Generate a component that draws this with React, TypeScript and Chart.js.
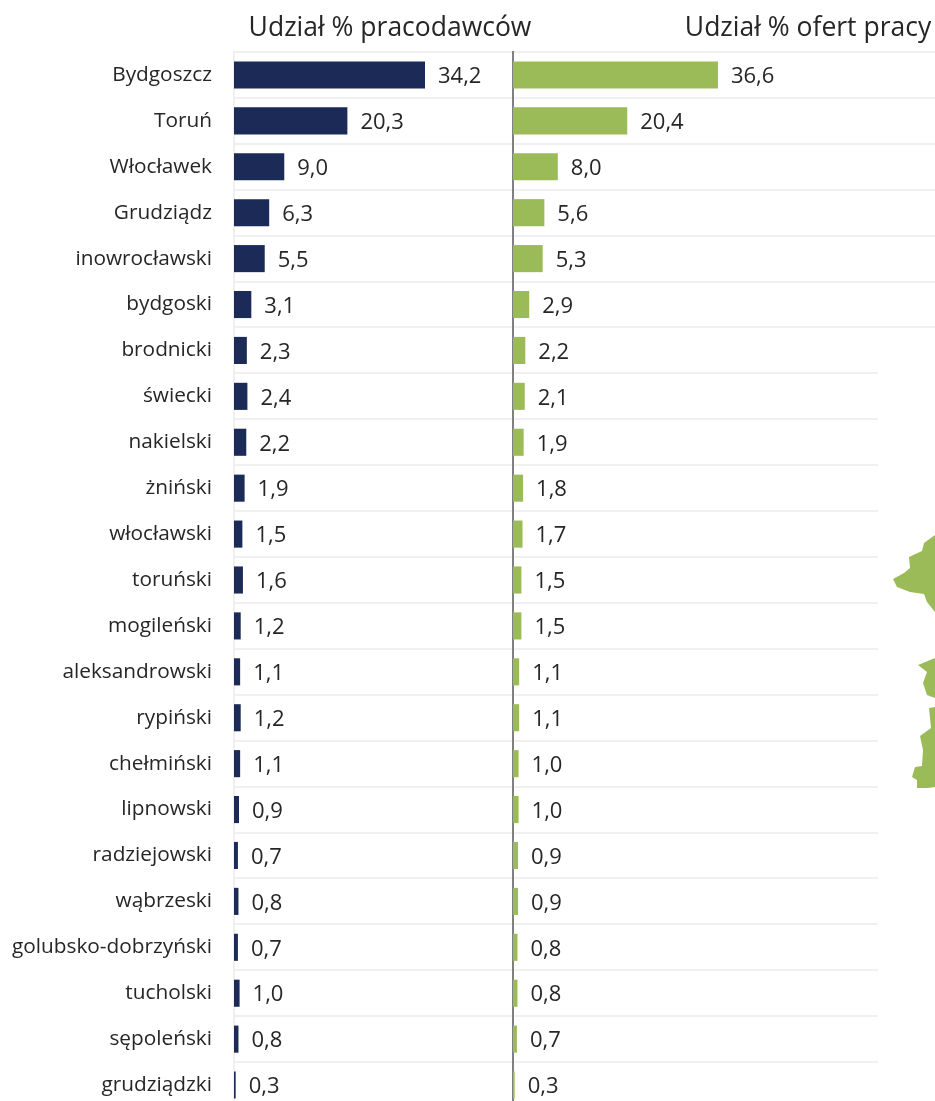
import React, { useEffect, useRef } from "react";
import { Chart, registerables } from "chart.js";

Chart.register(...registerables);

const categories = ["Bydgoszcz","Toruń","Włocławek","Grudziądz","inowrocławski","bydgoski","brodnicki","świecki","nakielski","żniński","włocławski","toruński","mogileński","aleksandrowski","rypiński","chełmiński","lipnowski","radziejowski","wąbrzeski","golubsko-dobrzyński","tucholski","sępoleński","grudziądzki"];
const employers = [34.2,20.3,9.0,6.3,5.5,3.1,2.3,2.4,2.2,1.9,1.5,1.6,1.2,1.1,1.2,1.1,0.9,0.7,0.8,0.7,1.0,0.8,0.3];
const offers = [36.6,20.4,8.0,5.6,5.3,2.9,2.2,2.1,1.9,1.8,1.7,1.5,1.5,1.1,1.1,1.0,1.0,0.9,0.9,0.8,0.8,0.7,0.3];
const titleEmployers = "Udział % pracodawców";
const titleOffers = "Udział % ofert pracy";

const FONT = "'Open Sans', sans-serif";
const TEXT = "#262626";
const GRID = "#f0f0f0";
const NAVY = "#1b2a56";
const GREEN = "#9bbb59";
const RIGHT_LEFT = 493;

// Decorative map fragments at the right edge of the picture (page pixels)
const mapPieces: number[][][] = [
  [[935,535],[924,543],[922,551],[909,557],[910,568],[904,573],[893,579],[897,587],[910,592],[924,594],[927,602],[935,612]],
  [[935,658],[918,665],[927,672],[923,683],[927,695],[935,698]],
  [[935,707],[929,708],[931,728],[920,736],[923,750],[922,766],[915,767],[912,777],[917,780],[917,788],[928,788],[935,787]],
];

const valueLabels = {
  id: "valueLabels",
  afterDatasetsDraw(chart: any) {
    const { ctx } = chart;
    ctx.save();
    ctx.font = `22px ${FONT}`;
    ctx.fillStyle = TEXT;
    ctx.textAlign = "left";
    ctx.textBaseline = "middle";
    chart.getDatasetMeta(0).data.forEach((bar: any, i: number) => {
      const v = chart.data.datasets[0].data[i] as number;
      ctx.fillText(v.toFixed(1).replace(".", ","), bar.x + 13, bar.y + 2);
    });
    ctx.restore();
  },
};

const mapDecor = {
  id: "mapDecor",
  afterDraw(chart: any) {
    const { ctx } = chart;
    ctx.save();
    ctx.fillStyle = "#ffffff";
    ctx.fillRect(878 - RIGHT_LEFT, 350, 300, 760);
    ctx.fillStyle = GREEN;
    mapPieces.forEach((piece) => {
      ctx.beginPath();
      piece.forEach(([x, y], i) => {
        if (i === 0) ctx.moveTo(x - RIGHT_LEFT, y);
        else ctx.lineTo(x - RIGHT_LEFT, y);
      });
      ctx.closePath();
      ctx.fill();
    });
    ctx.restore();
  },
};

function makeOptions(title: string, xMax: number, yWidth: number, left: boolean): any {
  return {
    indexAxis: "y",
    responsive: false,
    animation: false,
    layout: { padding: 0 },
    plugins: {
      legend: { display: false },
      tooltip: { enabled: false },
      title: {
        display: true,
        text: title,
        color: TEXT,
        font: { family: FONT, size: 26.5, weight: "normal", lineHeight: 1.2 },
        padding: { top: 12.5, bottom: 7.7 },
      },
    },
    scales: {
      x: { display: false, min: 0, max: xMax },
      y: {
        afterFit(s: any) {
          s.width = yWidth;
          s.paddingTop = 0;
          s.paddingBottom = 0;
        },
        grid: { color: GRID, lineWidth: 2, drawTicks: false, offset: true },
        border: { display: true, color: left ? GRID : "#808080", width: 2 },
        ticks: {
          display: left,
          color: TEXT,
          font: { family: FONT, size: 20.8 },
          padding: 22,
          autoSkip: false,
        },
      },
    },
  };
}

export default function App() {
  const leftRef = useRef<HTMLCanvasElement>(null);
  const rightRef = useRef<HTMLCanvasElement>(null);

  useEffect(() => {
    const a = new Chart(leftRef.current!, {
      type: "bar",
      data: {
        labels: categories,
        datasets: [{ data: employers, backgroundColor: NAVY, barPercentage: 0.59, categoryPercentage: 1 }],
      },
      options: makeOptions(titleEmployers, 97.76, 234, true),
      plugins: [valueLabels],
    });
    const b = new Chart(rightRef.current!, {
      type: "bar",
      data: {
        labels: categories,
        datasets: [{ data: offers, backgroundColor: GREEN, barPercentage: 0.59, categoryPercentage: 1 }],
      },
      options: makeOptions(titleOffers, 108.93, 20, false),
      plugins: [valueLabels, mapDecor],
    });
    return () => { a.destroy(); b.destroy(); };
  }, []);

  return (
    <div style={{ position: "fixed", left: 0, top: 0, width: 935, height: 1101, overflow: "hidden", background: "#fff" }}>
      <canvas ref={leftRef} width={780} height={1108} style={{ position: "absolute", left: 0, top: 0 }} />
      <canvas ref={rightRef} width={630} height={1108} style={{ position: "absolute", left: RIGHT_LEFT, top: 0 }} />
    </div>
  );
}
